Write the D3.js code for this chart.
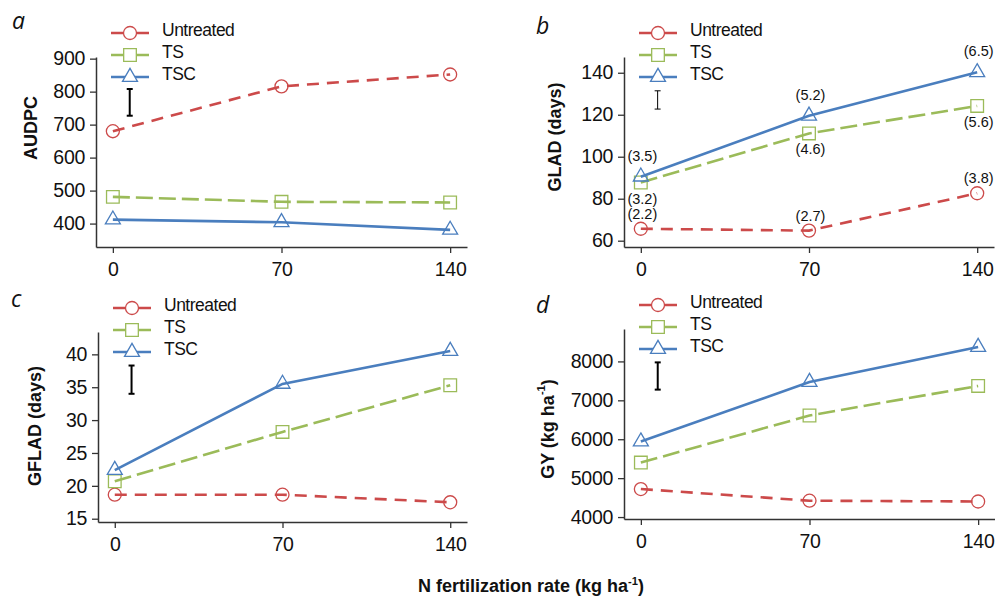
<!DOCTYPE html>
<html>
<head>
<meta charset="utf-8">
<script src="https://cdn.jsdelivr.net/npm/d3@7"></script>
<style>
  body { margin: 0; background: #fff; }
  svg { display: block; font-family: "Liberation Sans", Arial, sans-serif; }
  .tick text { font-family: "Liberation Sans", Arial, sans-serif; font-size: 19.5px; fill: #111; letter-spacing: -0.3px; }
  .domain { stroke: #333; stroke-width: 1.5; }
  .tick line { stroke: #333; stroke-width: 1.3; }
</style>
</head>
<body>
<svg id="chart" width="995" height="596"></svg>
<script>
// N rates and treatments
const rates = [0, 70, 140];
const treatments = ["Untreated", "TS", "TSC"];

// panel a - AUDPC
const audpcUntreated = [680, 816, 852];
const audpcTS = [481, 466, 464];
const audpcTSC = [412, 404, 381];

// panel b - GLAD (days)
const gladUntreated = [65.7, 64.8, 82.6];
const gladTS = [87.7, 111.1, 124.2];
const gladTSC = [90.5, 119.5, 140.2];
const gladNoteUntreated = ["(2.2)", "(2.7)", "(3.8)"];
const gladNoteTS = ["(3.2)", "(4.6)", "(5.6)"];
const gladNoteTSC = ["(3.5)", "(5.2)", "(6.5)"];

// panel c - GFLAD (days)
const gfladUntreated = [18.65, 18.65, 17.5];
const gfladTS = [20.7, 28.2, 35.3];
const gfladTSC = [22.4, 35.5, 40.5];

// panel d - GY (kg/ha)
const gyUntreated = [4720, 4420, 4400];
const gyTS = [5400, 6610, 7370];
const gyTSC = [5940, 7470, 8370];

// LSD bars (top value, length)
const lsdTop = [808, 131.4, 38.3, 7975];
const lsdSize = [81, 8.7, 4.3, 700];

// y tick labels
const audpcTicks = [400, 500, 600, 700, 800, 900];
const gladTicks = [60, 80, 100, 120, 140];
const gfladTicks = [15, 20, 25, 30, 35, 40];
const gyTicks = [4000, 5000, 6000, 7000, 8000];

const colors = ["#cc4a4a", "#9bbb59", "#4a7ebe"];
const dashes = ["12,8", "17,6", null];
const symbols = [d3.symbolCircle, d3.symbolSquare, d3.symbolTriangle];
const symSizes = [133, 160, 97];

const svg = d3.select("#chart");

const panels = [
  { letter: "a", lx: 12, ly: 29, left: 96, right: 467, top: 57, bottom: 247,
    yDomain: [329, 905], ticks: audpcTicks, label: ["AUDPC"], labX: 31, labY: 128,
    series: [audpcUntreated, audpcTS, audpcTSC], lsd: 0, errW: 2 },
  { letter: "b", lx: 536, ly: 34, left: 624, right: 994, top: 57, bottom: 247,
    yDomain: [57, 147.5], ticks: gladTicks, label: ["GLAD (days)"], labX: 555, labY: 137,
    series: [gladUntreated, gladTS, gladTSC], lsd: 1, errW: 1,
    notes: [gladNoteUntreated, gladNoteTS, gladNoteTSC] },
  { letter: "c", lx: 11, ly: 307, left: 98, right: 467, top: 332, bottom: 522,
    yDomain: [14.5, 43.4], ticks: gfladTicks, label: ["GFLAD (days)"], labX: 35, labY: 426,
    series: [gfladUntreated, gfladTS, gfladTSC], lsd: 2, errW: 2 },
  { letter: "d", lx: 536, ly: 313, left: 624, right: 995, top: 329, bottom: 519,
    yDomain: [3950, 8833], ticks: gyTicks, label: ["GY (kg ha", "-1", ")"], labX: 548, labY: 429,
    series: [gyUntreated, gyTS, gyTSC], lsd: 3, errW: 2 }
];

function addLabel(sel, parts, size) {
  sel.append("tspan").text(parts[0]);
  if (parts.length > 1) {
    sel.append("tspan").attr("font-size", size * 0.62).attr("dy", -size * 0.38).text(parts[1]);
    sel.append("tspan").attr("dy", size * 0.38).text(parts[2]);
  }
}

panels.forEach(p => {
  const x = d3.scaleLinear().domain([-7, 147]).range([p.left, p.right]);
  const y = d3.scaleLinear().domain(p.yDomain).range([p.bottom, p.top]);
  const g = svg.append("g");

  g.append("g")
    .attr("transform", `translate(0,${p.bottom})`)
    .call(d3.axisBottom(x).tickValues(rates).tickSize(6).tickSizeOuter(0).tickPadding(9));
  g.append("g")
    .attr("transform", `translate(${p.left},0)`)
    .call(d3.axisLeft(y).tickValues(p.ticks).tickFormat(d3.format("d"))
      .tickSize(6).tickSizeOuter(0).tickPadding(5));

  // y label
  const yl = g.append("text")
    .attr("transform", `translate(${p.labX},${p.labY}) rotate(-90)`)
    .attr("text-anchor", "middle")
    .attr("dominant-baseline", "central")
    .attr("font-size", 18).attr("font-weight", "bold").attr("fill", "#111");
  addLabel(yl, p.label, 18);

  // panel letter
  g.append("text")
    .attr("x", p.lx).attr("y", p.ly)
    .attr("font-family", "'Open Sans', sans-serif")
    .attr("font-style", "italic").attr("font-size", 23).attr("fill", "#111")
    .text(p.letter);

  // series
  p.series.forEach((vals, i) => {
    const line = d3.line().x((d, j) => x(rates[j])).y(d => y(d));
    g.append("path")
      .attr("d", line(vals))
      .attr("fill", "none")
      .attr("stroke", colors[i])
      .attr("stroke-width", 2.6)
      .attr("stroke-dasharray", dashes[i]);
    g.selectAll(null).data(vals).join("path")
      .attr("transform", (d, j) => `translate(${x(rates[j])},${y(d)})`)
      .attr("d", d3.symbol(symbols[i], symSizes[i]))
      .attr("fill", "none")
      .attr("stroke", colors[i])
      .attr("stroke-width", 1.3);

    if (p.notes) {
      const off = i === 1 ? 16 : (i === 2 ? -21 : -15);
      g.selectAll(null).data(p.notes[i]).join("text")
        .attr("x", (d, j) => x(rates[j]) + 1.5)
        .attr("y", (d, j) => y(vals[j]) + off)
        .attr("text-anchor", "middle")
        .attr("dominant-baseline", "central")
        .attr("font-size", 14.5).attr("fill", "#111")
        .text(d => d);
    }
  });

  // legend
  const lg = g.append("g");
  treatments.forEach((t, i) => {
    const ry = p.top - 24 + i * 22;
    lg.append("line")
      .attr("x1", p.left + 15).attr("x2", p.left + 53)
      .attr("y1", ry).attr("y2", ry)
      .attr("stroke", colors[i]).attr("stroke-width", 2.6);
    lg.append("path")
      .attr("transform", `translate(${p.left + 34},${ry})`)
      .attr("d", d3.symbol(symbols[i], symSizes[i]))
      .attr("fill", "#fff").attr("stroke", colors[i]).attr("stroke-width", 1.3);
    lg.append("text")
      .attr("x", p.left + 66).attr("y", ry + 2.5)
      .attr("font-size", 17.5).attr("letter-spacing", -0.5).attr("fill", "#111")
      .text(t);
  });

  // LSD bar
  const ex = x(7);
  const y1 = y(lsdTop[p.lsd]), y2 = y(lsdTop[p.lsd] - lsdSize[p.lsd]);
  const eb = g.append("g").attr("stroke", "#000").attr("stroke-width", p.errW);
  eb.append("line").attr("x1", ex).attr("x2", ex).attr("y1", y1).attr("y2", y2);
  eb.append("line").attr("x1", ex - 3).attr("x2", ex + 3).attr("y1", y1).attr("y2", y1);
  eb.append("line").attr("x1", ex - 3).attr("x2", ex + 3).attr("y1", y2).attr("y2", y2);
});

// shared x title
const xt = svg.append("text")
  .attr("x", 531).attr("y", 592)
  .attr("text-anchor", "middle")
  .attr("font-size", 18).attr("font-weight", "bold").attr("fill", "#111");
addLabel(xt, ["N fertilization rate (kg ha", "-1", ")"], 18);
</script>
</body>
</html>
